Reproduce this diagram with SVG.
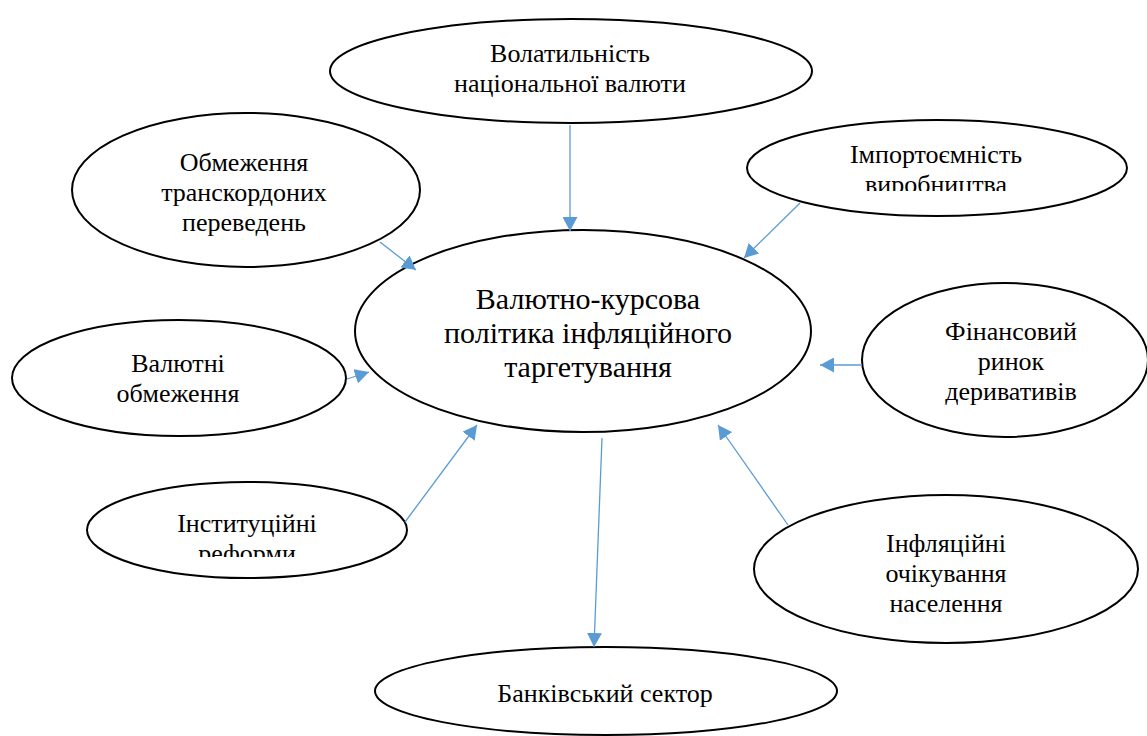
<svg xmlns="http://www.w3.org/2000/svg" width="1147" height="736" viewBox="0 0 1147 736">
<style>
.node ellipse{fill:#fff;stroke:#000;stroke-width:2}
.lbl{font-family:'Liberation Serif','Times New Roman',serif;font-size:26px;fill:#000;text-anchor:middle}
.big{font-size:30px}
.conn line{stroke:#5B9BD5;stroke-width:1.3;marker-end:url(#ah)}
</style>
<defs>
<marker id="ah" markerUnits="userSpaceOnUse" markerWidth="14" markerHeight="15" refX="14" refY="7.5" orient="auto" viewBox="0 0 14 15">
<path d="M0,0 L14,7.5 L0,15 z" fill="#5B9BD5"/>
</marker>
<clipPath id="cImp"><rect x="740" y="110" width="407" height="81"/></clipPath>
<clipPath id="cInst"><rect x="80" y="470" width="340" height="87"/></clipPath>
</defs>
<rect width="1147" height="736" fill="#fff"/>
<g id="n-volat" class="node">
<ellipse cx="571" cy="71" rx="241" ry="52"/>
<text class="lbl" x="570" y="62">Волатильність</text>
<text class="lbl" x="570" y="92">національної валюти</text>
</g>
<g id="n-obm" class="node">
<ellipse cx="246" cy="190" rx="174" ry="77"/>
<text class="lbl" x="244" y="171">Обмеження</text>
<text class="lbl" x="244" y="201">транскордоних</text>
<text class="lbl" x="244" y="231">переведень</text>
</g>
<g id="n-imp" class="node">
<ellipse cx="937" cy="168" rx="190" ry="48"/>
<g clip-path="url(#cImp)">
<text class="lbl" x="936" y="163">Імпортоємність</text>
<text class="lbl" x="936" y="193">виробництва</text>
</g>
</g>
<g id="n-center" class="node">
<ellipse cx="583" cy="331" rx="228" ry="101"/>
<text class="lbl big" x="588" y="309">Валютно-курсова</text>
<text class="lbl big" x="588" y="343">політика інфляційного</text>
<text class="lbl big" x="588" y="377">таргетування</text>
</g>
<g id="n-fin" class="node">
<ellipse cx="1005" cy="360" rx="143" ry="77"/>
<text class="lbl" x="1011" y="340">Фінансовий</text>
<text class="lbl" x="1011" y="370">ринок</text>
<text class="lbl" x="1011" y="400">деривативів</text>
</g>
<g id="n-val" class="node">
<ellipse cx="179" cy="378" rx="167" ry="58"/>
<text class="lbl" x="178" y="372">Валютні</text>
<text class="lbl" x="178" y="402">обмеження</text>
</g>
<g id="n-inst" class="node">
<ellipse cx="247" cy="530" rx="160" ry="48"/>
<g clip-path="url(#cInst)">
<text class="lbl" x="247" y="532">Інституційні</text>
<text class="lbl" x="247" y="562">реформи</text>
</g>
</g>
<g id="n-infl" class="node">
<ellipse cx="946" cy="569" rx="192" ry="74"/>
<text class="lbl" x="946" y="552">Інфляційні</text>
<text class="lbl" x="946" y="582">очікування</text>
<text class="lbl" x="946" y="612">населення</text>
</g>
<g id="n-bank" class="node">
<ellipse cx="606" cy="691" rx="231" ry="44"/>
<text class="lbl" x="605" y="702">Банківський сектор</text>
</g>
<g id="connectors" class="conn">
<line x1="570" y1="125" x2="570" y2="231"/>
<line x1="380" y1="242" x2="416" y2="270"/>
<line x1="800" y1="203" x2="744" y2="258"/>
<line x1="862" y1="365" x2="820" y2="365"/>
<line x1="347" y1="379" x2="369" y2="372"/>
<line x1="405" y1="522" x2="477" y2="425"/>
<line x1="788" y1="525" x2="718" y2="425"/>
<line x1="602" y1="438" x2="594" y2="647"/>
</g>
</svg>
